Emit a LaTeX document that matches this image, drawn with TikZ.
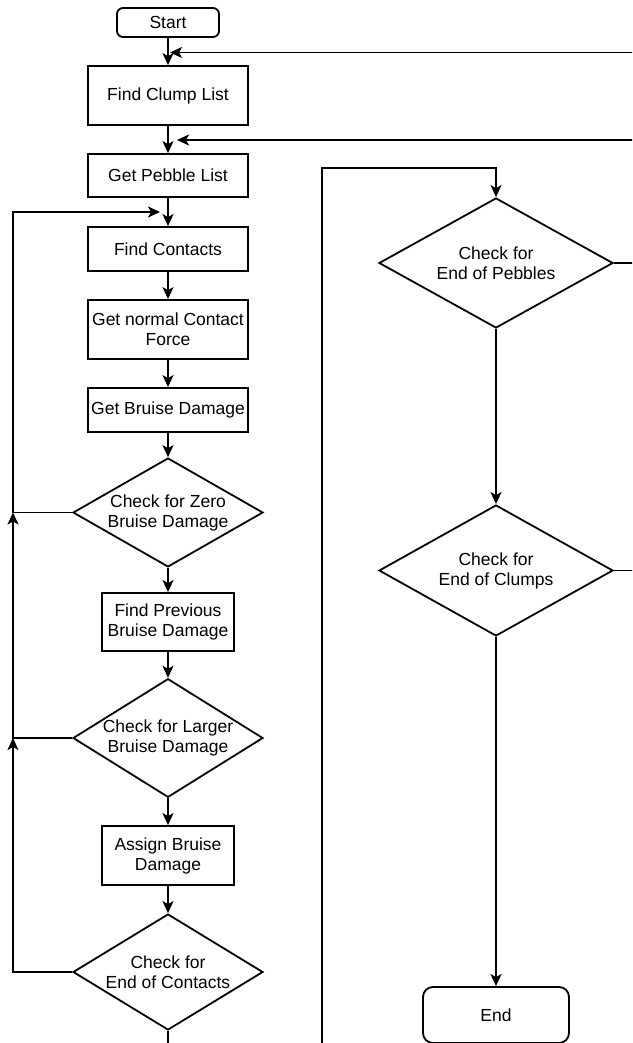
\documentclass[tikz,border=0pt]{standalone}
\usepackage{fontspec}
\setmainfont{Liberation Sans}
\usetikzlibrary{arrows.meta,shapes.geometric}
\newcommand{\chartfont}{\fontsize{17.5}{20}\selectfont}
\tikzset{
	box/.style={draw, line width=1.8pt, minimum width=160pt, align=center, inner sep=0pt, font=\chartfont},
	term/.style={box, rounded corners=6pt},
	check/.style={draw, diamond, line width=1.8pt, inner sep=-12pt, align=center, font=\chartfont},
	flow/.style={line width=1.8pt, -{Stealth[length=12pt,width=11pt,inset=3pt]}}
}

\begin{document}
\begin{tikzpicture}[x=1pt, y=-1pt]
			%%%%% START %%%%%
			\useasboundingbox (0,0) rectangle (632,1043);
			\clip (0,0) rectangle (632,1043);
			
			% contact loop
			\node[term, minimum width=102pt, minimum height=29pt] (start) at (168,22.5) {Start};
			\node[box, minimum height=59pt] (clump) at (168,95.5) {Find Clump List};
			\node[box, minimum height=43pt] (pebble) at (168,175.5) {Get Pebble List};
			\node[box, minimum height=44pt] (contacts) at (168,249) {Find Contacts};
			\node[box, minimum height=59pt] (normal) at (168,329.5) {Get normal Contact\\Force};
			\node[box, minimum height=44pt] (bruise) at (168,410) {Get Bruise Damage};
			\node[check, minimum width=190pt, minimum height=101pt] (zero) at (168,512.5) {Check for Zero\\Bruise Damage};
			\node[box, minimum width=132pt, minimum height=58pt] (previous) at (168,622) {Find Previous\\Bruise Damage};
			\node[check, minimum width=190pt, minimum height=116pt] (larger) at (168,738) {Check for Larger\\Bruise Damage};
			\node[box, minimum width=132pt, minimum height=59pt] (assign) at (168,855.5) {Assign Bruise\\Damage};
			\node[check, minimum width=190pt, minimum height=116pt] (contactsend) at (168,972) {Check for\\End of Contacts};
			
			% pebble and clump checks
			\node[check, minimum width=234pt, minimum height=130pt] (pebbleend) at (496,263) {Check for\\End of Pebbles};
			\node[check, minimum width=234pt, minimum height=131pt] (clumpend) at (496,570.5) {Check for\\End of Clumps};
			\node[term, minimum width=146pt, minimum height=56pt, rounded corners=10pt] (end) at (496,1015) {End};
			
			\draw[flow] (start) -- (clump);
			\draw[flow] (clump) -- (pebble);
			\draw[flow] (pebble) -- (contacts);
			\draw[flow] (contacts) -- (normal);
			\draw[flow] (normal) -- (bruise);
			\draw[flow] (bruise) -- (zero);
			\draw[flow] (zero) -- (previous);
			\draw[flow] (previous) -- (larger);
			\draw[flow] (larger) -- (assign);
			\draw[flow] (assign) -- (contactsend);
			
			% back to next contact
			\coordinate (backA) at (13,738);
			\coordinate (backB) at (13,512.5);
			\coordinate (intoC) at (160,212);
			\draw[flow] (contactsend.west) -| (backA);
			\draw[flow] (larger.west) -- (backA) -- (backB);
			\draw[flow] (zero.west) -- (backB) |- (intoC);
			
			% over to the right column
			\coordinate (downC) at (168,1075);
			\coordinate (loopR) at (322,168);
			\draw[flow] (contactsend.south) -- (downC) -| (loopR) -| (pebbleend.north);
			\draw[flow] (pebbleend) -- (clumpend);
			\draw[flow] (clumpend) -- (end);
			
			% back to next pebble / clump
			\coordinate (intoP) at (177,140);
			\coordinate (intoL) at (170,52.5);
			\draw[flow] (pebbleend.east) -- ++(40,0) |- (intoP);
			\draw[flow] (clumpend.east) -- ++(60,0) |- (intoL);
			
			%%%%% END %%%%%
\end{tikzpicture}
\end{document}
